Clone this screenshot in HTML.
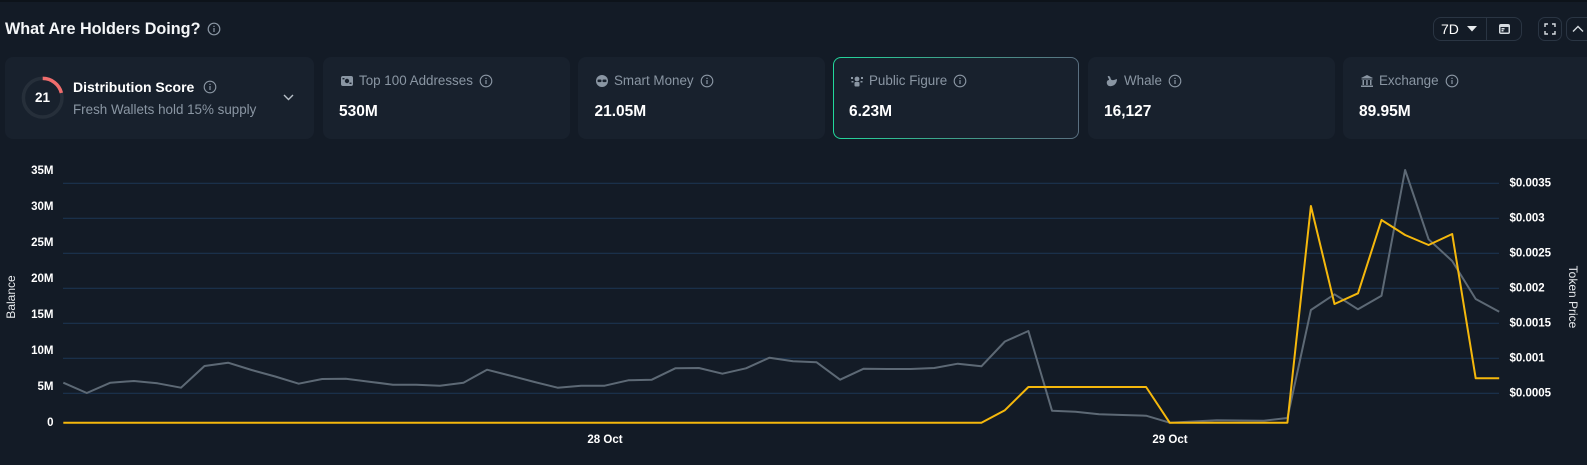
<!DOCTYPE html>
<html><head><meta charset="utf-8"><style>
*{box-sizing:border-box;margin:0;padding:0}
html,body{width:1587px;height:465px;overflow:hidden;background:#131b26;font-family:"Liberation Sans",Arial,sans-serif;color:#fff}
.topline{position:absolute;left:0;top:0;width:1587px;height:2px;background:#0d131a}
.title{position:absolute;left:5px;top:19px;font-size:16.2px;font-weight:bold;color:#f4f6f8;line-height:20px;white-space:nowrap}
.card{position:absolute;top:57px;height:82px;border-radius:8px;background:#18212d}
.lrow{position:absolute;top:73px;height:16px;display:flex;align-items:center;white-space:nowrap}
.lrow span{font-size:13.4px;color:#8a96a3;line-height:16px;margin-left:6px;margin-right:6px}
.val{position:absolute;top:102px;font-size:15.5px;font-weight:bold;color:#fff;line-height:19px;white-space:nowrap}
.ic{position:absolute}
.btn{position:absolute;border:1px solid #2a3543;border-radius:8px}
</style></head><body>
<div class="topline"></div>
<div class="title">What Are Holders Doing?</div>
<svg class="ic" style="left:207px;top:22px" width="14" height="14" viewBox="0 0 14 14"><circle cx="7" cy="7" r="5.8" fill="none" stroke="#8a96a3" stroke-width="1.2"/><rect x="6.4" y="6" width="1.2" height="4" fill="#8a96a3"/><rect x="6.4" y="3.8" width="1.2" height="1.2" fill="#8a96a3"/></svg>

<!-- controls -->
<div class="btn" style="left:1433px;top:17px;width:89px;height:24px"></div>
<div style="position:absolute;left:1486px;top:18px;width:1px;height:22px;background:#2a3543"></div>
<div style="position:absolute;left:1441px;top:21px;font-size:14px;line-height:16px;color:#fff">7D</div>
<svg class="ic" style="left:1467px;top:26px" width="10" height="6"><polygon points="0,0 10,0 5,5.5" fill="#e8ebee"/></svg>
<svg class="ic" style="left:1499px;top:24px" width="11" height="10"><rect x="0" y="0" width="11" height="10" rx="2" fill="#d6dbe0"/><rect x="1.5" y="3" width="8" height="5.5" fill="#18212d"/><rect x="2.5" y="4" width="3" height="1.5" fill="#d6dbe0"/><rect x="2.5" y="6" width="2" height="1.5" fill="#d6dbe0"/></svg>
<div class="btn" style="left:1538px;top:17px;width:24px;height:24px;border-radius:7px"></div>
<svg class="ic" style="left:1544px;top:23px" width="12" height="12" viewBox="0 0 12 12" fill="none" stroke="#d6dbe0" stroke-width="1.4"><path d="M1 4V1h3M8 1h3v3M11 8v3H8M4 11H1V8"/></svg>
<div class="btn" style="left:1566px;top:17px;width:30px;height:24px;border-radius:7px"></div>
<svg class="ic" style="left:1572px;top:25px" width="12" height="8" viewBox="0 0 12 8" fill="none" stroke="#d6dbe0" stroke-width="1.4"><path d="M1 6.5L6 1.5L11 6.5"/></svg>

<!-- distribution card -->
<div class="card" style="left:5px;width:309px"></div>
<svg class="ic" style="left:20px;top:75px" width="46" height="46" viewBox="0 0 46 46">
<circle cx="22.7" cy="22.7" r="19.3" fill="none" stroke="#262f3a" stroke-width="3.5"/>
<path d="M22.7 3.4 A19.3 19.3 0 0 1 41.4 17.9" fill="none" stroke="#f06d6d" stroke-width="3.5"/>
</svg>
<div style="position:absolute;left:30px;top:90px;width:25px;text-align:center;font-size:13.5px;font-weight:bold;line-height:16px">21</div>
<div style="position:absolute;left:73px;top:78px;font-size:14px;font-weight:bold;line-height:18px;white-space:nowrap">Distribution Score</div>
<svg class="ic" style="left:203px;top:80px" width="14" height="14" viewBox="0 0 14 14"><circle cx="7" cy="7" r="5.8" fill="none" stroke="#8a96a3" stroke-width="1.1"/><rect x="6.4" y="6" width="1.2" height="4" fill="#8a96a3"/><rect x="6.4" y="3.8" width="1.2" height="1.2" fill="#8a96a3"/></svg>
<div style="position:absolute;left:73px;top:102px;font-size:13.4px;color:#8a96a3;line-height:16px;white-space:nowrap">Fresh Wallets hold 15% supply</div>
<svg class="ic" style="left:283px;top:94px" width="11" height="7" viewBox="0 0 11 7" fill="none" stroke="#b8c0c8" stroke-width="1.4"><path d="M1 1l4.5 4.5L10 1"/></svg>

<!-- Top 100 -->
<div class="card" style="left:323px;width:247px"></div>
<div class="lrow" style="left:341px">
<svg width="12" height="10"><rect x="0" y="0" width="12" height="10" rx="2" fill="#8a96a3"/><circle cx="6" cy="5" r="2.2" fill="#18212d"/><rect x="1.5" y="2" width="2" height="1.4" fill="#18212d"/><rect x="8.5" y="6.6" width="2" height="1.4" fill="#18212d"/></svg>
<span>Top 100 Addresses</span>
<svg width="14" height="14" viewBox="0 0 14 14"><circle cx="7" cy="7" r="5.8" fill="none" stroke="#8a96a3" stroke-width="1.1"/><rect x="6.4" y="6" width="1.2" height="4" fill="#8a96a3"/><rect x="6.4" y="3.8" width="1.2" height="1.2" fill="#8a96a3"/></svg>
</div>
<div class="val" style="left:339px">530M</div>

<!-- Smart Money -->
<div class="card" style="left:578px;width:247px"></div>
<div class="lrow" style="left:596px">
<svg width="12" height="12"><circle cx="6" cy="6" r="6" fill="#8a96a3"/><rect x="1.5" y="4.5" width="4" height="2.6" rx="1" fill="#18212d"/><rect x="6.5" y="4.5" width="4" height="2.6" rx="1" fill="#18212d"/></svg>
<span>Smart Money</span>
<svg width="14" height="14" viewBox="0 0 14 14"><circle cx="7" cy="7" r="5.8" fill="none" stroke="#8a96a3" stroke-width="1.1"/><rect x="6.4" y="6" width="1.2" height="4" fill="#8a96a3"/><rect x="6.4" y="3.8" width="1.2" height="1.2" fill="#8a96a3"/></svg>
</div>
<div class="val" style="left:594.5px">21.05M</div>

<!-- Public Figure -->
<div style="position:absolute;left:833px;top:57px;width:246px;height:82px;border-radius:8px;background:linear-gradient(90deg,#22d89c 0%,#3aa88c 40%,#5a6f80 100%);padding:1px">
<div style="width:100%;height:100%;border-radius:7px;background:#18212d"></div></div>
<div class="lrow" style="left:851px">
<svg width="12" height="12"><circle cx="6" cy="4" r="2.4" fill="#8a96a3"/><rect x="3.5" y="7" width="5" height="4.5" rx="1" fill="#8a96a3"/><rect x="0" y="2" width="2" height="2" fill="#8a96a3"/><rect x="10" y="2" width="2" height="2" fill="#8a96a3"/><rect x="0.5" y="6" width="2" height="1.5" fill="#8a96a3"/><rect x="9.5" y="6" width="2" height="1.5" fill="#8a96a3"/></svg>
<span>Public Figure</span>
<svg width="14" height="14" viewBox="0 0 14 14"><circle cx="7" cy="7" r="5.8" fill="none" stroke="#8a96a3" stroke-width="1.1"/><rect x="6.4" y="6" width="1.2" height="4" fill="#8a96a3"/><rect x="6.4" y="3.8" width="1.2" height="1.2" fill="#8a96a3"/></svg>
</div>
<div class="val" style="left:849px">6.23M</div>

<!-- Whale -->
<div class="card" style="left:1088px;width:247px"></div>
<div class="lrow" style="left:1106px">
<svg width="12" height="12"><path d="M2 1C6 1 3 6 8 5L11 4C11 9 7 12 3 11C0 10 0 5 3 5C3 3 1 2 2 1Z" fill="#8a96a3"/></svg>
<span>Whale</span>
<svg width="14" height="14" viewBox="0 0 14 14"><circle cx="7" cy="7" r="5.8" fill="none" stroke="#8a96a3" stroke-width="1.1"/><rect x="6.4" y="6" width="1.2" height="4" fill="#8a96a3"/><rect x="6.4" y="3.8" width="1.2" height="1.2" fill="#8a96a3"/></svg>
</div>
<div class="val" style="left:1104px">16,127</div>

<!-- Exchange -->
<div class="card" style="left:1343px;width:260px"></div>
<div class="lrow" style="left:1361px">
<svg width="12" height="12"><polygon points="6,0 12,3 0,3" fill="#8a96a3"/><rect x="0.5" y="3.5" width="11" height="1" fill="#8a96a3"/><rect x="1.5" y="5" width="1.5" height="5" fill="#8a96a3"/><rect x="5.2" y="5" width="1.5" height="5" fill="#8a96a3"/><rect x="9" y="5" width="1.5" height="5" fill="#8a96a3"/><rect x="0" y="10.5" width="12" height="1.5" fill="#8a96a3"/></svg>
<span>Exchange</span>
<svg width="14" height="14" viewBox="0 0 14 14"><circle cx="7" cy="7" r="5.8" fill="none" stroke="#8a96a3" stroke-width="1.1"/><rect x="6.4" y="6" width="1.2" height="4" fill="#8a96a3"/><rect x="6.4" y="3.8" width="1.2" height="1.2" fill="#8a96a3"/></svg>
</div>
<div class="val" style="left:1359px">89.95M</div>

<!-- chart -->
<svg style="position:absolute;left:0;top:0" width="1587" height="465" viewBox="0 0 1587 465">
<g stroke="#1c3450" stroke-width="1.2">
<line x1="63" y1="183.3" x2="1499" y2="183.3"/>
<line x1="63" y1="218.3" x2="1499" y2="218.3"/>
<line x1="63" y1="253.3" x2="1499" y2="253.3"/>
<line x1="63" y1="288.3" x2="1499" y2="288.3"/>
<line x1="63" y1="323.3" x2="1499" y2="323.3"/>
<line x1="63" y1="358.3" x2="1499" y2="358.3"/>
<line x1="63" y1="393.3" x2="1499" y2="393.3"/>
</g>
<g font-family="Liberation Sans, Arial, sans-serif" font-size="11.5" font-weight="bold" fill="#ffffff" text-anchor="end">
<text x="53.5" y="174">35M</text>
<text x="53.5" y="210">30M</text>
<text x="53.5" y="246">25M</text>
<text x="53.5" y="282">20M</text>
<text x="53.5" y="318">15M</text>
<text x="53.5" y="354">10M</text>
<text x="53.5" y="390">5M</text>
<text x="53.5" y="426">0</text>
</g>
<g font-family="Liberation Sans, Arial, sans-serif" font-size="11.5" font-weight="bold" fill="#ffffff">
<text x="1509.5" y="186.5">$0.0035</text>
<text x="1509.5" y="221.5">$0.003</text>
<text x="1509.5" y="256.5">$0.0025</text>
<text x="1509.5" y="291.5">$0.002</text>
<text x="1509.5" y="326.5">$0.0015</text>
<text x="1509.5" y="361.5">$0.001</text>
<text x="1509.5" y="396.5">$0.0005</text>
</g>
<g font-family="Liberation Sans, Arial, sans-serif" font-size="11.5" font-weight="bold" fill="#ffffff" text-anchor="middle">
<text x="605" y="443">28 Oct</text>
<text x="1170" y="443">29 Oct</text>
</g>
<text x="0" y="0" transform="translate(15,297) rotate(-90)" text-anchor="middle" font-family="Liberation Sans, Arial, sans-serif" font-size="12" fill="#e6e9ec">Balance</text>
<text x="0" y="0" transform="translate(1569,297) rotate(90)" text-anchor="middle" font-family="Liberation Sans, Arial, sans-serif" font-size="12" fill="#e6e9ec">Token Price</text>
<polyline fill="none" stroke="#5d6975" stroke-width="2" stroke-linejoin="round" points="63.3,382.7 86.8,393 110.4,382.7 133.9,381 157.5,383.3 181,387.7 204.5,366 228.1,362.7 251.6,370 275.2,376.5 298.7,383.7 322.2,379 345.8,378.7 369.3,381.7 392.9,384.7 416.4,384.7 439.9,385.7 463.5,382.7 487,369.7 510.6,375.7 534.1,381.9 557.6,387.7 581.2,385.7 604.7,385.7 628.3,380.3 651.8,379.7 675.3,368.3 698.9,368 722.4,373.7 746,368.3 769.5,357.7 793,361.3 816.6,362.3 840.1,379.7 863.7,368.7 887.2,369 910.7,369 934.3,368 957.8,363.7 981.4,366.3 1004.9,341.5 1028.4,331 1052,410.7 1075.5,411.7 1099.1,414.3 1122.6,415 1146.1,415.7 1169.7,422.7 1193.2,421.5 1216.8,420.3 1240.3,420.5 1263.8,420.7 1287.4,418 1310.9,310 1334.5,294.3 1358,309.3 1381.5,295.7 1405.1,170 1428.6,239.3 1452.2,261 1475.7,299 1499.2,311.7"/>
<polyline fill="none" stroke="#f5b80c" stroke-width="2" stroke-linejoin="round" points="63.3,422.7 981.4,422.7 1004.9,410.2 1028.4,387 1146.1,387 1169.7,422.7 1287.4,422.7 1310.9,206 1334.5,304 1358,293.3 1381.5,220 1405.1,235 1428.6,245 1452.2,234 1475.7,378.3 1499.2,378.3"/>
</svg>
</body></html>
